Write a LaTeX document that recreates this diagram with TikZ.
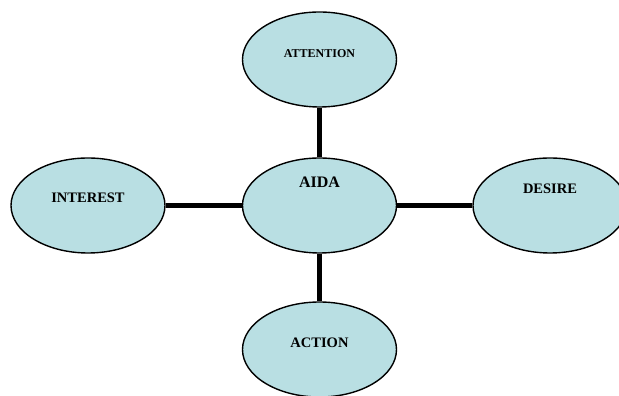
\documentclass[tikz,border=0pt]{standalone}
\usepackage{fontspec}
\setmainfont{Liberation Serif}
\usetikzlibrary{shapes.geometric}
\definecolor{bubble}{RGB}{185,223,227}
\tikzset{
  bubble/.style={ellipse, draw=black, line width=1.4pt, fill=bubble, minimum width=154pt, minimum height=95pt, inner sep=0pt},
  lbl/.style={font=\bfseries\fontsize{14.5}{16}\selectfont, inner sep=0pt},
  link/.style={line width=5pt}
}
\begin{document}
\begin{tikzpicture}[x=1pt,y=1pt]
\useasboundingbox (0,0) rectangle (619,396);
\node[bubble] (attention) at (319.5,336.5) {};
\node[bubble] (aida) at (319.5,190.5) {};
\node[bubble] (interest) at (88,190.5) {};
\node[bubble] (desire) at (550,190.5) {};
\node[bubble] (action) at (319.5,46.5) {};
\draw[link] (aida) -- (attention);
\draw[link] (aida) -- (action);
\draw[link] (aida) -- (interest);
\draw[link] (aida) -- (desire);
\node[lbl, font=\bfseries\fontsize{12}{14}\selectfont] (tattention) at (319.5,342.5) {ATTENTION};
\node[lbl, font=\bfseries\fontsize{16}{18}\selectfont] (taida) at (319.5,214) {AIDA};
\node[lbl] (tinterest) at (88,198.5) {INTEREST};
\node[lbl] (tdesire) at (550,207) {DESIRE};
\node[lbl] (taction) at (319.5,53) {ACTION};
\end{tikzpicture}
\end{document}
